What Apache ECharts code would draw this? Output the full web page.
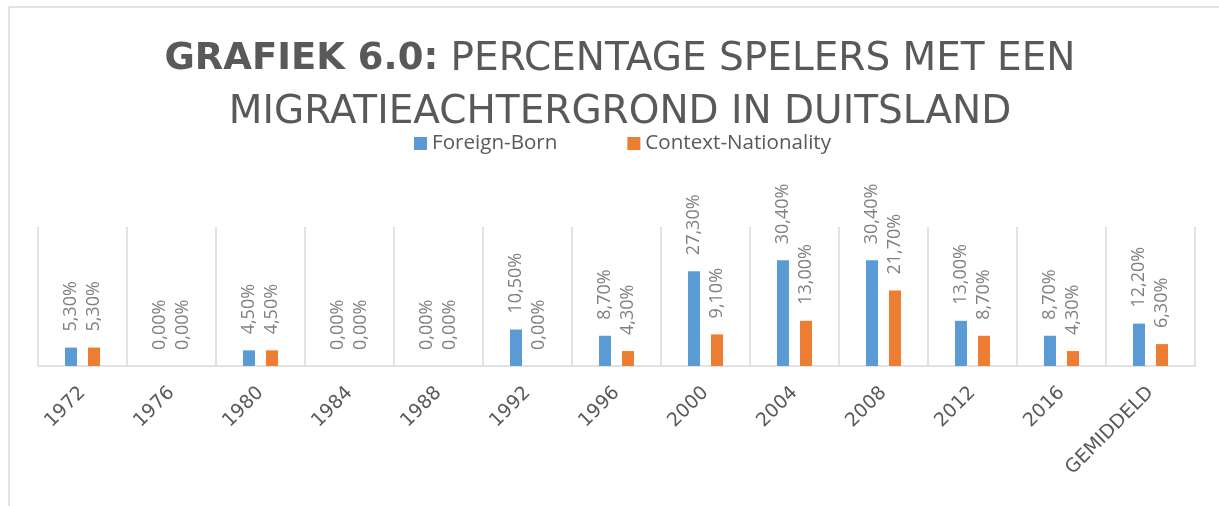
<!DOCTYPE html>
<html>
<head>
<meta charset="utf-8">
<script src="https://cdn.jsdelivr.net/npm/echarts@6/dist/echarts.min.js"></script>
<style>html,body{margin:0;padding:0;background:#fff;}#c{width:1219px;height:506px;}</style>
</head>
<body>
<div id="c"></div>
<script>
const categories = ['1972','1976','1980','1984','1988','1992','1996','2000','2004','2008','2012','2016','GEMIDDELD'];
const foreignBorn = [5.3, 0, 4.5, 0, 0, 10.5, 8.7, 27.3, 30.4, 30.4, 13.0, 8.7, 12.2];
const contextNationality = [5.3, 0, 4.5, 0, 0, 0, 4.3, 9.1, 13.0, 21.7, 8.7, 4.3, 6.3];
const seriesNames = ['Foreign-Born', 'Context-Nationality'];

const chart = echarts.init(document.getElementById('c'), null, {renderer: 'canvas'});
const fmt = p => p.value.toFixed(2).replace('.', ',') + '%';
const labelCfg = {
  show: true, position: 'top', rotate: 90, align: 'left', verticalAlign: 'middle',
  distance: 16, formatter: fmt, color: '#808080', fontSize: 18, fontFamily: 'Open Sans'
};
chart.setOption({
  animation: false,
  backgroundColor: '#fff',
  title: {
    left: 615, top: 28, textAlign: 'center',
    text: '{b|GRAFIEK 6.0:}{n| PERCENTAGE SPELERS MET EEN}\n{n|MIGRATIEACHTERGROND IN DUITSLAND}',
    textStyle: {
      rich: {
        b: {fontFamily: 'DejaVu Sans', fontWeight: 'bold', fontSize: 37, color: '#595959', lineHeight: 53},
        n: {fontFamily: 'DejaVu Sans', fontWeight: 'normal', fontSize: 39, color: '#595959', lineHeight: 53}
      }
    }
  },
  legend: {
    left: 409, top: 128, icon: 'rect', itemWidth: 13, itemHeight: 13, itemGap: 70,
    textStyle: {fontFamily: 'Open Sans', fontSize: 20.6, color: '#595959'},
    data: seriesNames
  },
  graphic: [
    {type: 'line', shape: {x1: 9, y1: 7, x2: 1219, y2: 7}, style: {stroke: '#d9d9d9', lineWidth: 1.5}},
    {type: 'line', shape: {x1: 9, y1: 7, x2: 9, y2: 506}, style: {stroke: '#d9d9d9', lineWidth: 1.5}}
  ],
  grid: {left: 38, right: 24, top: 227, bottom: 140, containLabel: false},
  xAxis: {
    type: 'category', data: categories,
    axisLine: {show: true, lineStyle: {color: '#d9d9d9', width: 1.5}},
    axisTick: {show: false},
    splitLine: {show: true, lineStyle: {color: '#d9d9d9', width: 1.5}},
    axisLabel: {rotate: 45, margin: 24, fontFamily: 'DejaVu Sans', fontSize: 19, color: '#595959', interval: 0}
  },
  yAxis: {type: 'value', min: 0, max: 40, show: false, splitLine: {show: false}},
  series: [
    {name: seriesNames[0], type: 'bar', data: foreignBorn, barWidth: 12, barGap: '92%',
     itemStyle: {color: '#5B9BD5'}, label: labelCfg},
    {name: seriesNames[1], type: 'bar', data: contextNationality, barWidth: 12,
     itemStyle: {color: '#ED7D31'}, label: labelCfg}
  ]
});
</script>
</body>
</html>
